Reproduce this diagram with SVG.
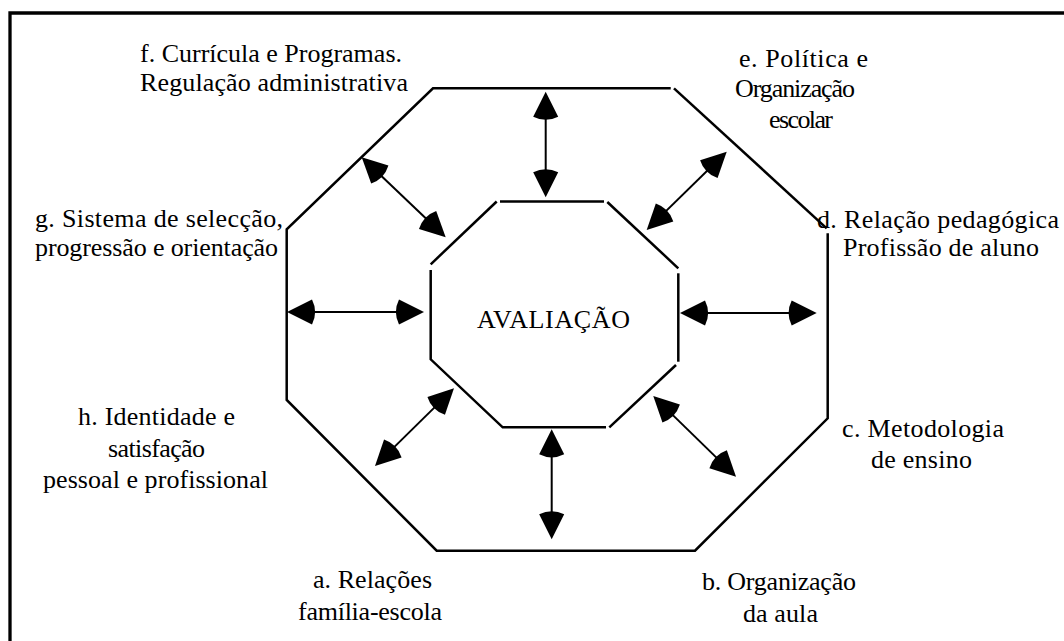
<svg xmlns="http://www.w3.org/2000/svg" width="1064" height="641" viewBox="0 0 1064 641">
  <style>
    text { font-family: "Liberation Serif", "DejaVu Serif", "Noto Serif", "Times New Roman", Times, serif; font-size: 26px; fill: #000; }
    .oct { fill: none; stroke: #000; stroke-width: 2.5; stroke-linejoin: miter; }
    .arr { fill: none; stroke: #000; stroke-width: 2; marker-start: url(#head); marker-end: url(#head); }
    .frame { fill: none; stroke: #000; stroke-width: 3.3; }
  </style>
  <defs>
    <marker id="head" markerUnits="userSpaceOnUse" viewBox="-30 -15 45 30" markerWidth="45" markerHeight="30" refX="0" refY="0" orient="auto-start-reverse">
      <path d="M8,0 L-17,-12.5 A28,28 0 0 0 -17,12.5 Z" fill="#000"/>
    </marker>
  </defs>
  <rect x="0" y="0" width="1064" height="641" fill="#fff"/>
  <path class="frame" d="M10,660 L10,13 L1080,13"/>

  <g id="outer-ring">
    <polyline class="oct" points="827.7,233.3 827.7,418.3 695,550.7 436.7,550.7 286.7,400 286.7,229.3 433,88.3 670.7,88.3"/>
    <line class="oct" x1="674" y1="88.3" x2="826.7" y2="228.3"/>
  </g>

  <g id="center">
    <line class="oct" x1="500" y1="201.5" x2="604" y2="201.5"/>
    <line class="oct" x1="496.7" y1="201.5" x2="430.7" y2="264.3"/>
    <polyline class="oct" points="430.7,270 430.7,359.3 502.7,427.3 606,427.3"/>
    <line class="oct" x1="609.3" y1="427.3" x2="676" y2="365"/>
    <line class="oct" x1="678.3" y1="273.3" x2="678.3" y2="361.7"/>
    <line class="oct" x1="607.3" y1="202" x2="678.3" y2="268.3"/>
    <text x="477" y="328" textLength="153">AVALIAÇÃO</text>
  </g>

  <g id="connectors">
    <line class="arr" x1="545.7" y1="99.7" x2="545.7" y2="189.3"/>
    <line class="arr" x1="551.7" y1="437.3" x2="551.7" y2="531.3"/>
    <line class="arr" x1="295" y1="312" x2="416" y2="312"/>
    <line class="arr" x1="688" y1="313" x2="808.7" y2="313"/>
    <line class="arr" x1="367.5" y1="162.8" x2="439.9" y2="231.8"/>
    <line class="arr" x1="721" y1="157.3" x2="652.4" y2="224.4"/>
    <line class="arr" x1="448.3" y1="393.9" x2="380.7" y2="460.4"/>
    <line class="arr" x1="659" y1="401.6" x2="730.3" y2="471.1"/>
  </g>

  <g id="label-a">
    <text x="313" y="588.3" textLength="119">a. Relações</text>
    <text x="298" y="620" textLength="144">família-escola</text>
  </g>
  <g id="label-b">
    <text x="702" y="590" textLength="154">b. Organização</text>
    <text x="743" y="621.7" textLength="75">da aula</text>
  </g>
  <g id="label-c">
    <text x="842" y="437" textLength="162">c. Metodologia</text>
    <text x="871" y="468.3" textLength="101">de ensino</text>
  </g>
  <g id="label-d">
    <text x="817" y="228" textLength="242">d. Relação pedagógica</text>
    <text x="843" y="256" textLength="196">Profissão de aluno</text>
  </g>
  <g id="label-e">
    <text x="739" y="66.7" textLength="129">e. Política e</text>
    <text x="735" y="96.5" textLength="120">Organização</text>
    <text x="769" y="127.5" textLength="64">escolar</text>
  </g>
  <g id="label-f">
    <text x="140" y="62" textLength="262">f. Currícula e Programas.</text>
    <text x="140" y="90.5" textLength="268">Regulação administrativa</text>
  </g>
  <g id="label-g">
    <text x="35" y="227" textLength="248">g. Sistema de selecção,</text>
    <text x="35" y="256" textLength="243">progressão e orientação</text>
  </g>
  <g id="label-h">
    <text x="78" y="425" textLength="157">h. Identidade e</text>
    <text x="108" y="456.7" textLength="97">satisfação</text>
    <text x="43" y="488.3" textLength="225">pessoal e profissional</text>
  </g>
</svg>
